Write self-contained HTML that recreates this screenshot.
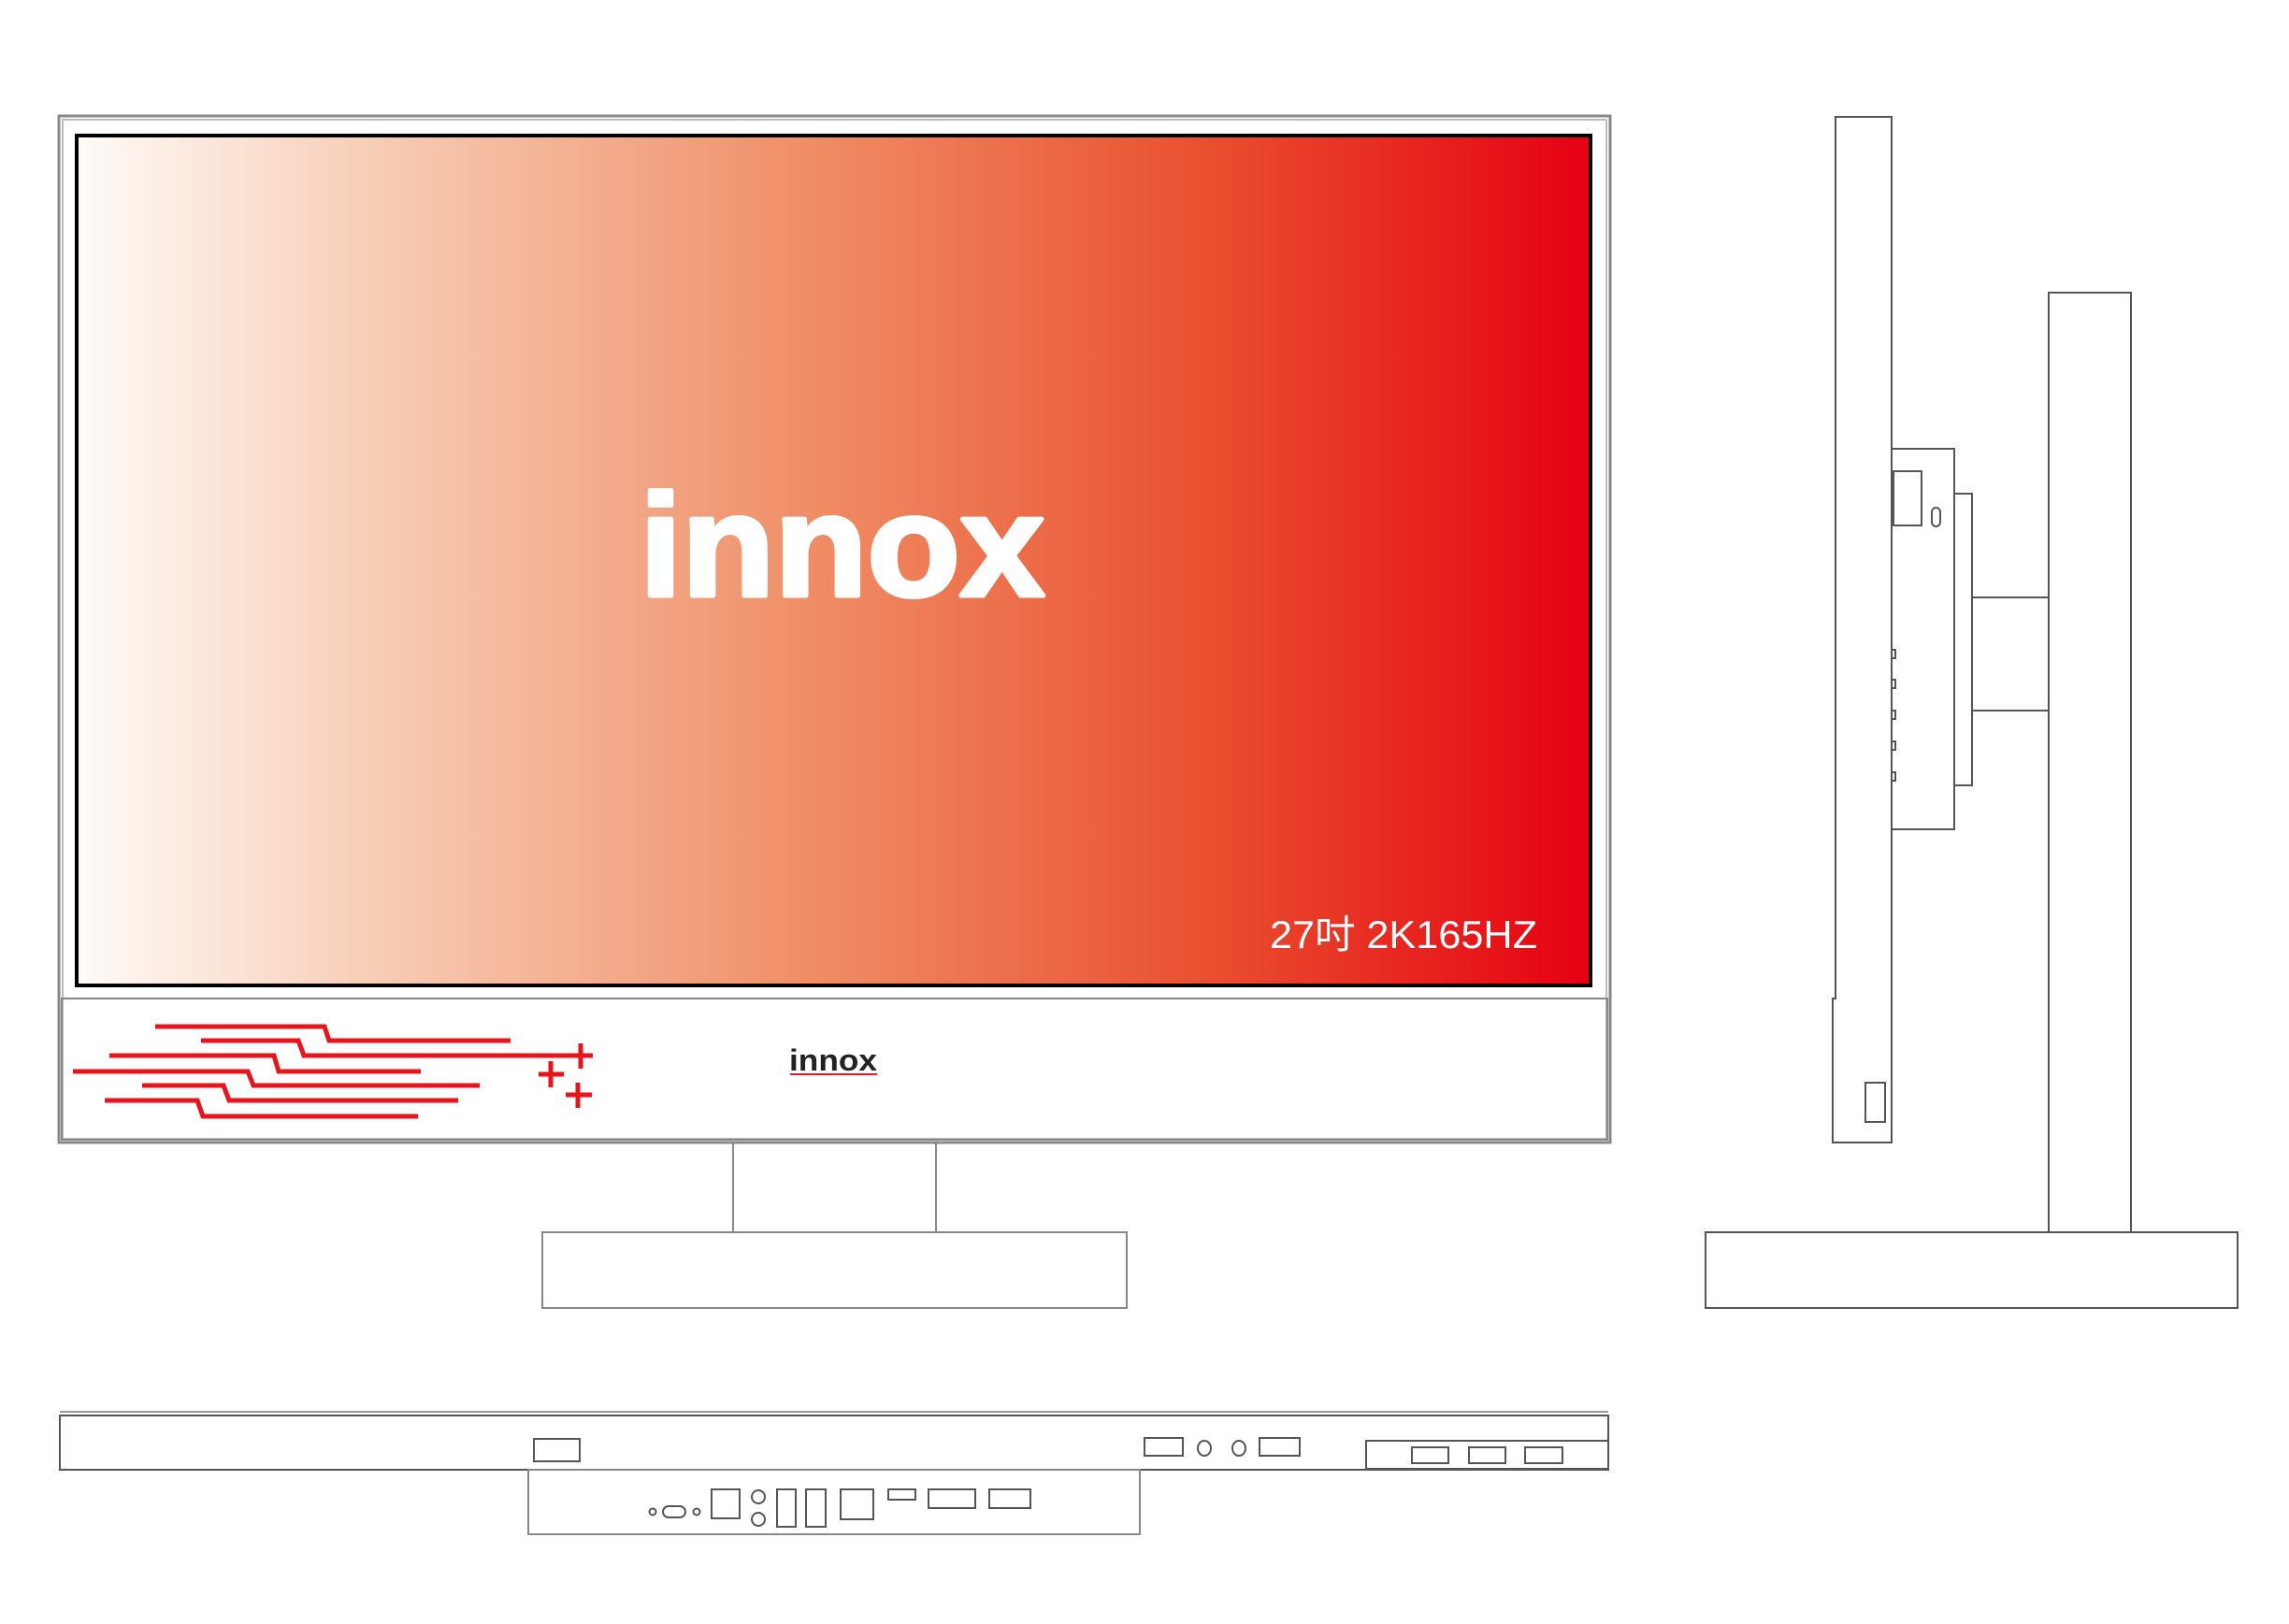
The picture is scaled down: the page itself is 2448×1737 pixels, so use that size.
<!DOCTYPE html>
<html><head><meta charset="utf-8"><style>html,body{margin:0;padding:0;background:#fff}svg{display:block}</style></head>
<body>
<svg width="2448" height="1737" viewBox="0 0 2448 1737" xmlns="http://www.w3.org/2000/svg">
<defs>
<linearGradient id="g" x1="0" x2="1" y1="0" y2="0">
<stop offset="0" stop-color="#fffbf7"/>
<stop offset="0.2" stop-color="#f7ccb4"/>
<stop offset="0.5" stop-color="#ef8a62"/>
<stop offset="0.75" stop-color="#e94f2f"/>
<stop offset="1" stop-color="#e60012"/>
</linearGradient>
</defs>
<g fill="none" stroke="#888" stroke-width="2">
<rect x="63" y="124" width="1659" height="1098" stroke-width="3"/>
<rect x="67" y="128" width="1651" height="1090" stroke="#bbb"/>
<rect x="66" y="1068" width="1653" height="151"/>
<line x1="784" y1="1222" x2="784" y2="1318"/>
<line x1="1001" y1="1222" x2="1001" y2="1318"/>
<rect x="580" y="1318" width="625" height="81"/>
</g>
<rect x="82" y="145" width="1619" height="909" fill="url(#g)" stroke="#000" stroke-width="4"/>
<text x="684" y="637" font-family="Liberation Sans, sans-serif" font-weight="bold" font-size="155" fill="#fff" stroke="#fff" stroke-width="5" stroke-linejoin="round" textLength="433" lengthAdjust="spacingAndGlyphs">innox</text>
<text x="1358" y="1014" font-family="Liberation Sans, 'Noto Sans CJK SC', sans-serif" font-size="42" fill="#fff" textLength="286" lengthAdjust="spacingAndGlyphs">27吋 2K165HZ</text>
<text x="844" y="1145" font-family="Liberation Sans, sans-serif" font-weight="bold" font-size="32" fill="#222" textLength="94" lengthAdjust="spacingAndGlyphs">innox</text>
<line x1="845" y1="1149" x2="938" y2="1149" stroke="#e02020" stroke-width="2"/>
<g fill="none" stroke="#e8141c" stroke-width="5">
<polyline points="166,1098 347,1098 352,1113 546,1113"/>
<polyline points="215,1113 319,1113 325,1129 634,1129"/>
<polyline points="117,1129 293,1129 298,1146 450,1146"/>
<polyline points="78,1146 265,1146 271,1161 513,1161"/>
<polyline points="152,1161 239,1161 245,1177 490,1177"/>
<polyline points="112,1177 211,1177 217,1194 447,1194"/>
<line x1="621" y1="1116" x2="621" y2="1143"/>
<line x1="589" y1="1135" x2="589" y2="1163"/><line x1="576" y1="1149" x2="603" y2="1149"/>
<line x1="618" y1="1158" x2="618" y2="1185"/><line x1="605" y1="1171" x2="633" y2="1171"/>
</g>
<g fill="none" stroke="#555" stroke-width="2">
<line x1="64" y1="1510" x2="1720" y2="1510" stroke="#999"/>
<rect x="64" y="1514" width="1656" height="58"/>
<rect x="565" y="1572" width="654" height="69" stroke="#888"/>
<rect x="571" y="1539" width="49" height="24"/>
<rect x="1224" y="1538" width="41" height="19"/>
<ellipse cx="1288" cy="1549" rx="7" ry="8"/>
<ellipse cx="1325" cy="1549" rx="7" ry="8"/>
<rect x="1347" y="1538" width="43" height="19"/>
<rect x="1461" y="1541" width="259" height="30"/>
<rect x="1510" y="1548" width="39" height="17"/>
<rect x="1571" y="1548" width="39" height="17"/>
<rect x="1631" y="1548" width="40" height="17"/>
<circle cx="698" cy="1617" r="3.5"/>
<rect x="709" y="1611" width="24" height="12" rx="6"/>
<circle cx="745" cy="1617" r="3.5"/>
<rect x="761" y="1593" width="30" height="31"/>
<circle cx="811" cy="1601" r="7"/>
<circle cx="811" cy="1625" r="7"/>
<rect x="831" y="1593" width="20" height="40"/>
<rect x="862" y="1593" width="21" height="40"/>
<rect x="899" y="1593" width="35" height="32"/>
<rect x="950" y="1593" width="29" height="11"/>
<rect x="993" y="1593" width="50" height="20"/>
<rect x="1058" y="1593" width="44" height="20"/>
</g>
<g fill="none" stroke="#555" stroke-width="2">
<path d="M1963,125 L2023,125 L2023,1222 L1960,1222 L1960,1068 L1963,1068 Z"/>
<line x1="1963" y1="1068" x2="1963" y2="125"/>
<rect x="1995" y="1158" width="21" height="42"/>
<rect x="2023" y="480" width="67" height="407"/>
<rect x="2025" y="504" width="30" height="58"/>
<rect x="2066" y="543" width="9" height="20" rx="4.5"/>
<rect x="2023" y="695" width="4" height="9"/>
<rect x="2023" y="727" width="4" height="9"/>
<rect x="2023" y="760" width="4" height="9"/>
<rect x="2023" y="793" width="4" height="9"/>
<rect x="2023" y="826" width="4" height="9"/>
<rect x="2090" y="528" width="19" height="312"/>
<line x1="2109" y1="639" x2="2191" y2="639"/>
<line x1="2109" y1="760" x2="2191" y2="760"/>
<rect x="2191" y="313" width="88" height="1005"/>
<rect x="1824" y="1318" width="569" height="81"/>
</g>
</svg>
</body></html>
